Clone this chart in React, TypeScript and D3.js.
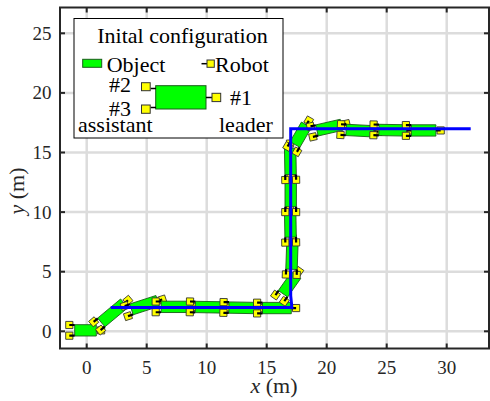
import React from 'react';
import * as d3 from 'd3';

const W = 490;
const H = 401;

const xTicks = [0, 5, 10, 15, 20, 25, 30];
const yTicks = [0, 5, 10, 15, 20, 25];

// object poses: rear robot midpoint, heading (deg), object length (m)
const poseX = [-1.45, 0.87, 3.3, 5.75, 8.6, 11.4, 14.2, 16.1, 17.05, 17.0, 17.0, 17.0, 17.13, 18.75, 21.17, 23.9, 26.6];
const poseY = [0.08, 0.45, 1.7, 2.05, 2.05, 2.0, 1.95, 2.78, 4.75, 7.45, 10.0, 12.7, 15.28, 16.75, 16.92, 16.9, 16.85];
const poseAngle = [0, 40, 18, 0, -1, -1, 0, 55, 88, 91, 90, 91, 60, 13, -3, -1, 0];
const poseLength = [1.8, 2.5, 2.3, 2.5, 2.5, 2.5, 2.4, 1.9, 2.2, 2.2, 2.2, 2.2, 1.9, 2.1, 2.3, 2.3, 2.05];

// desired path of the leader
const pathX = [2, 17.1, 17, 17, 32];
const pathY = [2, 2, 3, 17, 17];

const OBJ_W = 0.95;
const ROBOT_OFF = 0.45;
const ROBOT_LAT = 0.45;
const ROBOT_HALF = 0.3;
const LEAD_OFF = 0.4;

const FONT = "'Liberation Serif', 'Times New Roman', Times, serif";
const GREEN = '#00ff00';
const YELLOW = '#ffff00';

const L = 60, R = 489, T = 7.5, B = 348.5;

export default function App() {
  const x = d3.scaleLinear().domain([0, 30]).range([86.7, 446.7]);
  const y = d3.scaleLinear().domain([0, 25]).range([331.3, 33.3]);

  const pt = (p: [number, number]) => `${x(p[0])},${y(p[1])}`;
  const line = d3.line<[number, number]>().x(d => x(d[0])).y(d => y(d[1]));

  const poses = poseX.map((px, i) => {
    const a = (poseAngle[i] * Math.PI) / 180;
    const d: [number, number] = [Math.cos(a), Math.sin(a)];
    const n: [number, number] = [-Math.sin(a), Math.cos(a)];
    const py = poseY[i];
    const len = poseLength[i];
    const add = (p: [number, number], u: [number, number], k: number): [number, number] => [p[0] + u[0] * k, p[1] + u[1] * k];
    const base: [number, number] = [px, py];
    const rear = add(base, d, ROBOT_OFF);
    const front = add(rear, d, len);
    const rect = [
      add(rear, n, OBJ_W / 2),
      add(front, n, OBJ_W / 2),
      add(front, n, -OBJ_W / 2),
      add(rear, n, -OBJ_W / 2),
    ];
    const sq = (c: [number, number]) => {
      const c1 = add(add(c, d, ROBOT_HALF), n, ROBOT_HALF);
      const c2 = add(add(c, d, ROBOT_HALF), n, -ROBOT_HALF);
      const c3 = add(add(c, d, -ROBOT_HALF), n, -ROBOT_HALF);
      const c4 = add(add(c, d, -ROBOT_HALF), n, ROBOT_HALF);
      return [c1, c2, c3, c4];
    };
    const r2 = add(base, n, ROBOT_LAT);
    const r3 = add(base, n, -ROBOT_LAT);
    const r1 = add(front, d, LEAD_OFF);
    const robots = [
      { c: r2, sq: sq(r2), to: add(rear, n, ROBOT_LAT), from: add(r2, d, 0.0) },
      { c: r3, sq: sq(r3), to: add(rear, n, -ROBOT_LAT), from: add(r3, d, 0.0) },
      { c: r1, sq: sq(r1), to: front, from: add(r1, d, 0.0) },
    ];
    return { rect, robots };
  });

  return (
    <svg width={W} height={H} style={{ position: 'absolute', left: 0, top: 0, background: '#fff' }} fontFamily={FONT}>
      <defs>
        <clipPath id="plotClip">
          <rect x={L} y={T} width={R - L} height={B - T} />
        </clipPath>
      </defs>
      <rect x={0} y={0} width={W} height={H} fill="#fff" />
      {/* grid */}
      <g stroke="#dcdcdc" strokeWidth={2.5}>
        {xTicks.map(t => (
          <line key={'gx' + t} x1={x(t)} x2={x(t)} y1={T} y2={B} />
        ))}
        {yTicks.map(t => (
          <line key={'gy' + t} x1={L} x2={R} y1={y(t)} y2={y(t)} />
        ))}
      </g>
      {/* objects and robots */}
      <g clipPath="url(#plotClip)">
        {poses.map((p, i) => (
          <g key={'pose' + i}>
            <polygon points={p.rect.map(pt).join(' ')} fill={GREEN} stroke="#1a5c1a" strokeWidth={0.9} />
            {p.robots.map((r, j) => (
              <g key={j}>
                <polygon points={r.sq.map(pt).join(' ')} fill={YELLOW} stroke="#333" strokeWidth={0.9} />
                <path d={line([r.from, r.to]) || ''} stroke="#000" strokeWidth={2.2} fill="none" />
              </g>
            ))}
          </g>
        ))}
        <path
          d={line(pathX.map((v, i) => [v, pathY[i]] as [number, number])) || ''}
          fill="none"
          stroke="#0000ff"
          strokeWidth={3}
        />
      </g>
      {/* axes box */}
      <g stroke="#262626" strokeWidth={2}>
        <rect x={L} y={T} width={R - L} height={B - T} fill="none" />
        {xTicks.map(t => (
          <g key={'tx' + t}>
            <line x1={x(t)} x2={x(t)} y1={B} y2={B - 5} />
            <line x1={x(t)} x2={x(t)} y1={T} y2={T + 5} />
          </g>
        ))}
        {yTicks.map(t => (
          <g key={'ty' + t}>
            <line x1={L} x2={L + 5} y1={y(t)} y2={y(t)} />
            <line x1={R} x2={R - 5} y1={y(t)} y2={y(t)} />
          </g>
        ))}
      </g>
      {/* tick labels */}
      <g fontSize={19} fill="#262626">
        {xTicks.map(t => (
          <text key={'lx' + t} x={x(t)} y={374} textAnchor="middle">
            {t}
          </text>
        ))}
        {yTicks.map(t => (
          <text key={'ly' + t} x={51.5} y={y(t) + 6.5} textAnchor="end">
            {t}
          </text>
        ))}
      </g>
      {/* axis labels */}
      <text x={274} y={393} textAnchor="middle" fontSize={22} fill="#262626">
        <tspan fontStyle="italic">x</tspan> (m)
      </text>
      <text transform="translate(24,191) rotate(-90)" textAnchor="middle" fontSize={22} fill="#262626">
        <tspan fontStyle="italic">y</tspan> (m)
      </text>
      {/* legend */}
      <g>
        <rect x={74} y={18.5} width={209} height={119.5} fill="#fff" stroke="#000" strokeWidth={1} />
        <g fontSize={22} fill="#000">
          <text x={182.5} y={43.3} textAnchor="middle">Inital configuration</text>
          <text x={106.7} y={71.7}>Object</text>
          <text x={215} y={71.7}>Robot</text>
          <text x={109} y={91.7}>#2</text>
          <text x={109} y={116}>#3</text>
          <text x={230} y={105}>#1</text>
          <text x={78} y={131.7}>assistant</text>
          <text x={219} y={131.7}>leader</text>
        </g>
        <rect x={82.7} y={59.3} width={19} height={8} fill={GREEN} stroke="#1a5c1a" strokeWidth={1} />
        <line x1={201.5} x2={207} y1={63.7} y2={63.7} stroke="#000" strokeWidth={1.5} />
        <rect x={207} y={60} width={7.3} height={7.3} fill={YELLOW} stroke="#333" strokeWidth={1} />
        <rect x={155.7} y={85.7} width={50.3} height={23.3} fill={GREEN} stroke="#1a5c1a" strokeWidth={1} />
        <line x1={150.5} x2={156} y1={88.5} y2={88.5} stroke="#000" strokeWidth={1.5} />
        <line x1={150.5} x2={156} y1={107.5} y2={107.5} stroke="#000" strokeWidth={1.5} />
        <line x1={206} x2={212} y1={97.5} y2={97.5} stroke="#000" strokeWidth={1.5} />
        <rect x={141.5} y={82.7} width={8.7} height={8} fill={YELLOW} stroke="#333" strokeWidth={1} />
        <rect x={141.5} y={105} width={8.7} height={8.3} fill={YELLOW} stroke="#333" strokeWidth={1} />
        <rect x={212} y={93.3} width={8.7} height={8.3} fill={YELLOW} stroke="#333" strokeWidth={1} />
      </g>
    </svg>
  );
}
